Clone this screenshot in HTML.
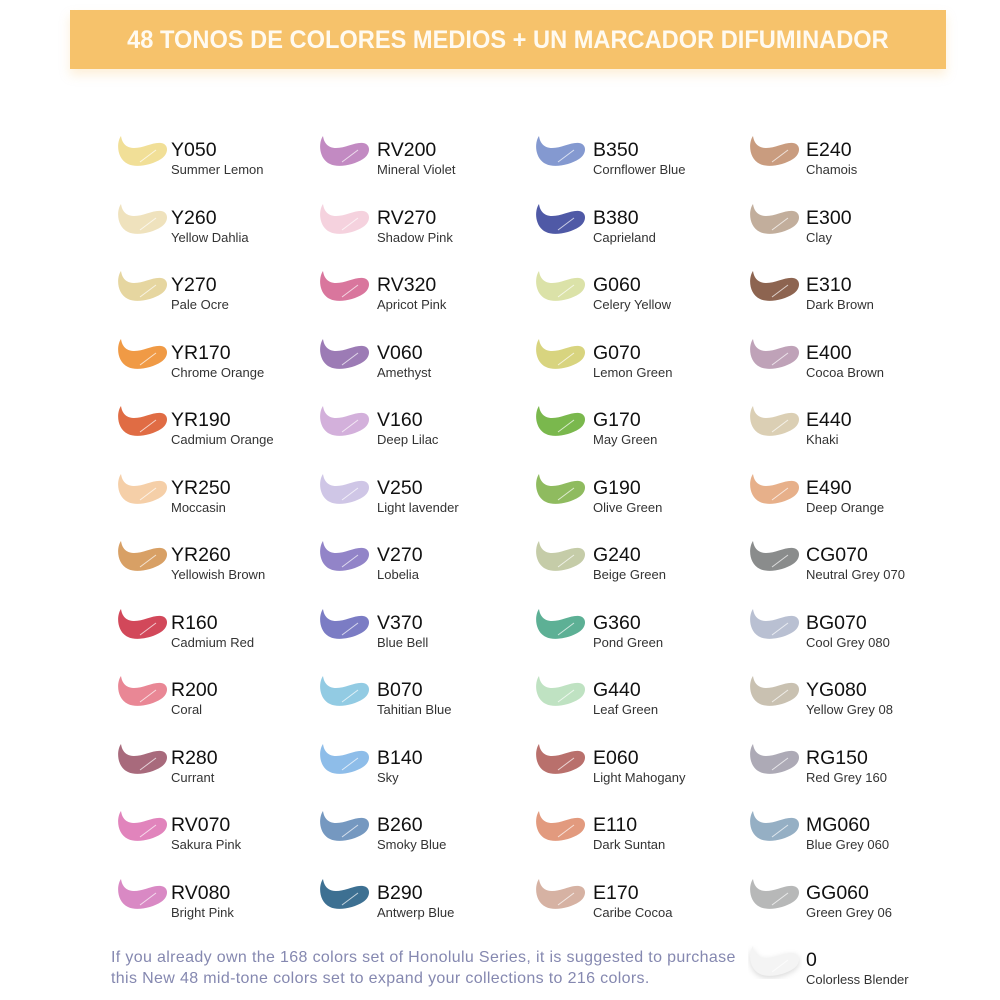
<!DOCTYPE html>
<html><head><meta charset="utf-8"><style>
body{margin:0;width:1000px;height:1000px;background:#fff;position:relative;overflow:hidden;font-family:"Liberation Sans",sans-serif}
.hdr{position:absolute;left:70px;top:10px;width:876px;height:59px;background:#f6c26b;box-shadow:0 6px 10px rgba(246,194,107,0.25);color:#fffaf0;font-weight:bold;font-size:25px;text-align:center;line-height:60px}
.hdr span{display:inline-block;transform:scaleX(0.945)}
.it{position:absolute;width:200px;height:40px}
.it svg{position:absolute;left:0;top:-6px}
.c{position:absolute;top:-2px;font-size:19.5px;color:#111}
.n{position:absolute;top:21px;font-size:13px;color:#333;white-space:nowrap}
.ft{position:absolute;left:111px;top:947px;font-size:16px;color:#8588b0;line-height:21px;letter-spacing:0.35px}
</style></head><body>
<div class="hdr"><span>48 TONOS DE COLORES MEDIOS + UN MARCADOR DIFUMINADOR</span></div>
<div id="g"></div>
<div class="ft">If you already own the 168 colors set of Honolulu Series, it is suggested to purchase<br>this New 48 mid-tone colors set to expand your collections to 216 colors.</div>
<script>
const cols=[[116,171],[318,377],[534,593],[748,806]];
const data=[
[["Y050","Summer Lemon","#f1df97"],["Y260","Yellow Dahlia","#efe2bd"],["Y270","Pale Ocre","#e6d6a0"],["YR170","Chrome Orange","#f09a45"],["YR190","Cadmium Orange","#e06c44"],["YR250","Moccasin","#f5cfa8"],["YR260","Yellowish Brown","#d8a065"],["R160","Cadmium Red","#d2485a"],["R200","Coral","#e98795"],["R280","Currant","#a86a7c"],["RV070","Sakura Pink","#e184bc"],["RV080","Bright Pink","#d989c4"]],
[["RV200","Mineral Violet","#c28ac2"],["RV270","Shadow Pink","#f5d2de"],["RV320","Apricot Pink","#d9769d"],["V060","Amethyst","#9c7bb5"],["V160","Deep Lilac","#d3b0db"],["V250","Light lavender","#cfc6e6"],["V270","Lobelia","#9284c8"],["V370","Blue Bell","#7b7cc4"],["B070","Tahitian Blue","#92cbe3"],["B140","Sky","#8ebde9"],["B260","Smoky Blue","#7598c0"],["B290","Antwerp Blue","#3d7092"]],
[["B350","Cornflower Blue","#8499d0"],["B380","Caprieland","#4f59a6"],["G060","Celery Yellow","#dbe2a8"],["G070","Lemon Green","#d8d47f"],["G170","May Green","#7ab84d"],["G190","Olive Green","#8fbb5f"],["G240","Beige Green","#c5cca8"],["G360","Pond Green","#5db095"],["G440","Leaf Green","#bfe2c2"],["E060","Light Mahogany","#b9706c"],["E110","Dark Suntan","#e29a7e"],["E170","Caribe Cocoa","#d6b2a3"]],
[["E240","Chamois","#c99c7f"],["E300","Clay","#c2ae9c"],["E310","Dark Brown","#8d6450"],["E400","Cocoa Brown","#bfa2b8"],["E440"," Khaki","#dbcfb4"],["E490","Deep Orange","#e7b08a"],["CG070","Neutral Grey 070","#8a8c8c"],["BG070","Cool Grey 080","#b9c0d2"],["YG080","Yellow Grey 08","#c9c1b1"],["RG150","Red Grey 160","#adaab6"],["MG060","Blue Grey 060","#95afc4"],["GG060","Green Grey 06","#b7b8b8"]]];
let h="";
const P="M5,1 C0,8 1,24 12,29 C20,33 36,30 45,24 C53,19 53,9 45,8 C37,7 28,13 18,13 C10,13 6,8 5,1 Z";
function item(x,tx,y,c,n,col,extra){
 return `<div class="it" style="left:${x}px;top:${y}px"><svg width="54" height="34" viewBox="0 0 54 34"><path d="${P}" fill="${col}" ${extra||""}/><path d="M24,27 L40,15" stroke="#fff" stroke-opacity="0.7" stroke-width="1"/></svg><div class="c" style="left:${tx-x}px">${c}</div><div class="n" style="left:${tx-x}px">${n}</div></div>`;
}
data.forEach((col,ci)=>col.forEach((d,ri)=>{h+=item(cols[ci][0],cols[ci][1],141+ri*67.5,d[0],d[1],d[2]);}));
h+=item(748,806,951,"0","Colorless Blender","#f4f4f4",'style="filter:drop-shadow(0 2px 3px rgba(0,0,0,0.15))"');
document.getElementById("g").innerHTML=h;
</script>
</body></html>
